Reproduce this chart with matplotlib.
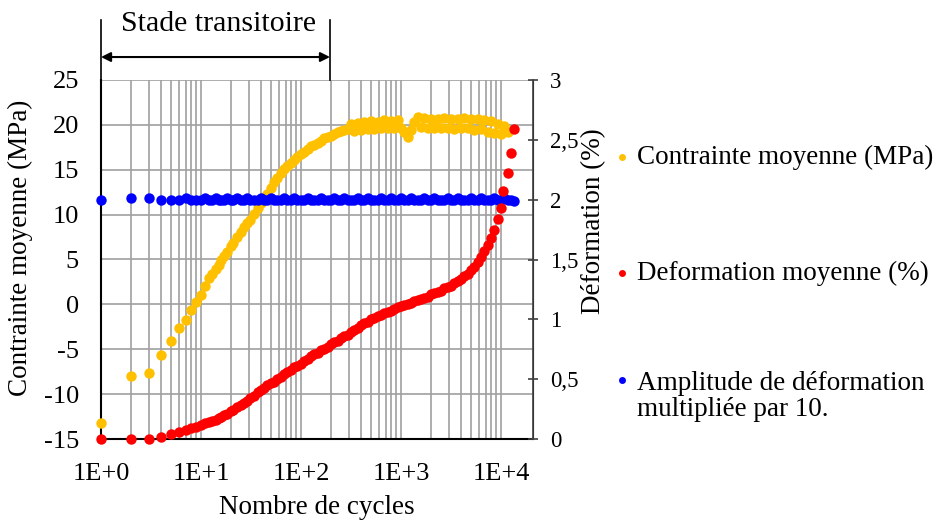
import matplotlib
matplotlib.use("Agg")
import matplotlib.pyplot as plt
from matplotlib.lines import Line2D
from matplotlib.ticker import FixedLocator, NullFormatter
import matplotlib.transforms as mtransforms

plt.rcParams['font.family'] = ['Liberation Serif', 'DejaVu Serif']

# ---------------- data ----------------
cycles = [1, 2, 3, 4, 5, 6, 7, 8, 9, 10, 11, 12, 13, 14, 15, 16, 17, 18,
          20, 21, 23, 25, 27, 29, 31, 34, 37, 40,
          43, 46, 50, 54, 58, 63, 68, 73, 79, 85,
          92, 100, 108, 117, 126, 136, 147, 158, 171, 185,
          200, 216, 233, 251, 271, 293, 316, 341, 368, 398,
          430, 464, 501, 541, 584, 631, 681, 736, 794, 858,
          926, 1000, 1080, 1166, 1259, 1359, 1468, 1585, 1711, 1848,
          1995, 2154, 2326, 2512, 2712, 2929, 3162, 3415, 3687, 3981,
          4299, 4642, 5012, 5412, 5843, 6310, 6813, 7356, 7943, 8577,
          9261, 10000, 10800, 11700]

contrainte = [-13.2, -8.0, -7.6, -5.6, -4.1, -2.6, -1.7, -0.6, 0.3, 1.0, 2.0, 2.9, 3.4, 3.9, 4.4, 4.9, 5.4, 5.8,
              6.5, 6.8, 7.5, 8.1, 8.6, 9.1, 9.4, 10.1, 10.7, 11.3,
              11.8, 12.3, 13.0, 13.6, 14.1, 14.6, 15.1, 15.4, 15.8, 16.1,
              16.4, 16.7, 17.0, 17.3, 17.6, 17.8, 18.0, 18.2, 18.5, 18.7,
              18.8, 19.0, 19.2, 19.3, 19.4, 19.5, 20.1, 19.3, 20.2, 19.4,
              20.3, 19.5, 20.4, 19.5, 20.3, 19.6, 20.5, 19.6, 20.4, 19.7,
              20.5, 19.6, 19.2, 18.6, 19.4, 20.3, 20.9, 19.8, 20.8, 19.7,
              20.6, 19.6, 20.7, 19.7, 20.8, 19.6, 20.6, 19.5, 20.7, 19.6,
              20.8, 19.6, 20.6, 19.4, 20.6, 19.5, 20.5, 19.2, 20.4, 19.1,
              20.1, 19.0, 19.9, 19.2]

cycles_def = [1, 2, 3, 4, 5, 6, 7, 8, 9, 10, 11, 12, 13, 14, 15, 16, 17, 18,
              20, 21, 23, 25, 27, 29, 31, 34, 37, 40,
              43, 46, 50, 54, 58, 63, 68, 73, 79, 85,
              92, 100, 108, 117, 126, 136, 147, 158, 171, 185,
              200, 216, 233, 251, 271, 293, 316, 341, 368, 398,
              430, 464, 501, 541, 584, 631, 681, 736, 794, 858,
              926, 1000, 1080, 1166, 1259, 1359, 1468, 1585, 1711, 1848,
              1995, 2154, 2326, 2512, 2712, 2929, 3162, 3415, 3687, 3981,
              4299, 4642, 5012, 5412, 5843, 6310, 6813, 7356, 7943, 8577,
              9261, 10000, 10500, 11700, 12600, 13500]

deformation = [0.0, 0.0, 0.0, 0.02, 0.04, 0.06, 0.075, 0.09, 0.10, 0.115, 0.13, 0.14, 0.15, 0.16, 0.175, 0.185, 0.20, 0.21,
               0.23, 0.24, 0.265, 0.285, 0.30, 0.32, 0.34, 0.36, 0.39, 0.41,
               0.43, 0.45, 0.465, 0.48, 0.50, 0.52, 0.54, 0.56, 0.58, 0.60,
               0.61, 0.63, 0.65, 0.67, 0.69, 0.71, 0.72, 0.74, 0.75, 0.77,
               0.79, 0.81, 0.82, 0.84, 0.86, 0.87, 0.89, 0.91, 0.93, 0.95,
               0.97, 0.98, 1.00, 1.01, 1.03, 1.04, 1.05, 1.06, 1.07, 1.09,
               1.10, 1.11, 1.12, 1.13, 1.14, 1.15, 1.16, 1.17, 1.18, 1.19,
               1.21, 1.22, 1.23, 1.24, 1.26, 1.27, 1.28, 1.30, 1.32, 1.34,
               1.36, 1.38, 1.41, 1.44, 1.48, 1.52, 1.57, 1.62, 1.68, 1.75,
               1.84, 1.93, 2.07, 2.22, 2.39, 2.59]

cycles_amp = cycles + [12600, 13500]

amplitude = [2.00, 2.01, 2.01, 2.00, 2.00, 2.00, 2.01, 2.00, 2.00, 2.00, 2.01, 2.00, 2.00, 2.01, 2.00, 2.00, 2.00, 2.01,
             2.00, 2.00, 2.01, 2.00, 2.00, 2.01, 2.00, 2.00, 2.00, 2.01,
             2.00, 2.00, 2.01, 2.00, 2.00, 2.00, 2.01, 2.00, 2.00, 2.01,
             2.00, 2.00, 2.00, 2.01, 2.00, 2.00, 2.00, 2.01, 2.00, 2.00,
             2.00, 2.01, 2.00, 2.00, 2.01, 2.00, 2.00, 2.00, 2.01, 2.00,
             2.00, 2.01, 2.00, 2.00, 2.00, 2.01, 2.00, 2.00, 2.01, 2.00,
             2.00, 2.01, 2.00, 2.00, 2.01, 2.00, 2.00, 2.00, 2.01, 2.00,
             2.00, 2.01, 2.00, 2.00, 2.00, 2.01, 2.00, 2.00, 2.01, 2.00,
             2.00, 2.00, 2.01, 2.00, 2.00, 2.01, 2.00, 2.00, 2.00, 2.01,
             2.00, 2.00, 2.01, 2.00, 2.00, 1.99]

left_ticks = [-15, -10, -5, 0, 5, 10, 15, 20, 25]
right_ticks = [0, 0.5, 1, 1.5, 2, 2.5, 3]
right_labels = ['0', '0,5', '1', '1,5', '2', '2,5', '3']
x_ticks = [1, 10, 100, 1000, 10000]
x_labels = ['1E+0', '1E+1', '1E+2', '1E+3', '1E+4']

labels = ['Contrainte moyenne (MPa)', 'Deformation moyenne (%)',
          'Amplitude de déformation\nmultipliée par 10.']
colors = ['#FFC000', '#FF0000', '#0000FF']

# ---------------- figure ----------------
W, H = 935, 521
fig = plt.figure(figsize=(W / 100, H / 100), dpi=100)
L, R, T, B = 101, 533, 80, 439
ax = fig.add_axes([L / W, 1 - B / H, (R - L) / W, (B - T) / H])
ax2 = ax.twinx()

FS = 19
grid_c = '#A0A0A0'

ax.set_xscale('log')
ax.set_xlim(1, 10 ** 4.32)
ax.set_ylim(-15, 25)
ax2.set_ylim(0, 3)

ax.set_yticks(left_ticks)
ax.set_yticklabels([str(t) for t in left_ticks], fontsize=FS)
ax.yaxis.grid(True, color=grid_c, linewidth=1.2)
minor = [k * 10 ** d for d in range(0, 4) for k in range(1, 10)] + [10000]
ax.xaxis.set_major_locator(FixedLocator(x_ticks))
ax.set_xticklabels(x_labels, fontsize=FS)
ax.xaxis.set_minor_locator(FixedLocator(minor))
ax.xaxis.set_minor_formatter(NullFormatter())
ax.xaxis.grid(True, which='both', color=grid_c, linewidth=1.2)
ax.set_axisbelow(True)
ax.tick_params(axis='x', which='both', length=0, pad=17)
ax.tick_params(axis='y', length=0, pad=16)

ax2.set_yticks(right_ticks)
ax2.set_yticklabels(right_labels, fontsize=FS - 2.5)
ax2.tick_params(axis='y', direction='inout', length=7, width=1.2, color='#404040', pad=9)

ax.spines['top'].set_visible(False)
ax2.spines['top'].set_visible(False)
ax.spines['left'].set_linewidth(1.5)
ax.spines['bottom'].set_linewidth(1.5)
ax2.spines['right'].set_color('#404040')
ax2.spines['right'].set_linewidth(1.2)
ax2.spines['left'].set_visible(False)
ax2.spines['bottom'].set_visible(False)

ms = 7.5
ax.plot(cycles, contrainte, 'o', color=colors[0], ms=ms, mec='none', clip_on=False, zorder=3)
ax2.plot(cycles_amp, amplitude, 'o', color=colors[2], ms=ms, mec='none', clip_on=False, zorder=3)
ax2.plot(cycles_def, deformation, 'o', color=colors[1], ms=ms, mec='none', clip_on=False, zorder=4)

ax.set_xlabel('Nombre de cycles', fontsize=FS + 0.5, va='center')
ax.xaxis.set_label_coords(0.5, -0.192)
ax.set_ylabel('Contrainte moyenne (MPa)', fontsize=FS + 0.5, va='center')
ax.yaxis.set_label_coords(-0.1875, 0.532)
ax2.set_ylabel('Déformation (%)', fontsize=FS + 0.5, va='center')
ax2.yaxis.set_label_coords(1.14, 0.607)

# "Stade transitoire" annotation
tr = mtransforms.blended_transform_factory(ax.transData, ax.transAxes)
x_end = 195
for xv in [1, x_end]:
    ax.add_line(Line2D([xv, xv], [1.0, 1.167], transform=tr, color='black', lw=1.2, clip_on=False))
ax.annotate('', xy=(1, 1.064), xytext=(x_end, 1.064), xycoords=tr, textcoords=tr,
            arrowprops=dict(arrowstyle='<|-|>', color='black', lw=1.5, mutation_scale=14,
                            shrinkA=0, shrinkB=0))
ax.text(0.271, 1.155, 'Stade transitoire', transform=ax.transAxes, ha='center', va='center',
        fontsize=FS + 2.5)

# legend (manual placement)
ys = [157, 273, 396.5]
for lab, col, yy in zip(labels, colors, ys):
    my = yy if '\n' not in lab else 380
    fig.add_artist(Line2D([622 / W], [1 - my / H], marker='o', color=col, ms=5, mec='none',
                          linestyle='none', transform=fig.transFigure))
    fig.text(637 / W, 1 - yy / H, lab, fontsize=FS + 0.5, va='center', ha='left', linespacing=1.05)

fig.savefig('out.png', dpi=100)
